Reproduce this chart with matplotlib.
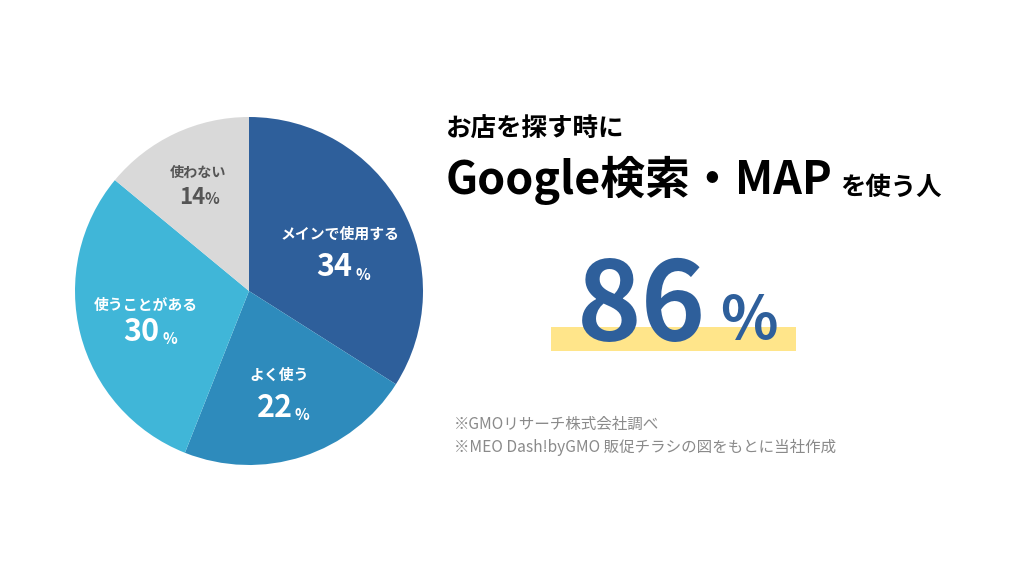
import matplotlib
matplotlib.use('Agg')
import matplotlib.pyplot as plt
from matplotlib.patches import Rectangle

plt.rcParams['font.family'] = ['Noto Sans CJK JP', 'DejaVu Sans']

labels = ['メインで使用する', 'よく使う', '使うことがある', '使わない']
values = [34, 22, 30, 14]
colors = ['#2E5F9B', '#2E8BBC', '#40B6D8', '#D9D9D9']
text_colors = ['white', 'white', 'white', '#555555']

total = 86
title_top = 'お店を探す時に'
title_main = 'Google検索・MAP'
title_tail = 'を使う人'
notes = ['※GMOリサーチ株式会社調べ', '※MEO Dash!byGMO 販促チラシの図をもとに当社作成']

# where each label goes: name x, name y, number x, number y, percent x, percent y
label_pos = [
    (340, 234, 334, 267, 363, 275),
    (279, 375, 275, 408, 302, 415),
    (146, 305, 141, 332, 170, 339),
    (198, 173, 192, 198, 212, 199),
]
number_sizes = [22, 22, 22, 16]
name_sizes = [10.7, 10.7, 10.7, 10.2]

fig = plt.figure(figsize=(10.24, 5.76), dpi=100, facecolor='white')
ax = fig.add_axes([0, 0, 1, 1])


def y_(y):
    return 576 - y


ax.pie(values, colors=colors, startangle=90, counterclock=False,
       center=(249, y_(291)), radius=174, frame=False)
ax.set_xlim(0, 1024)
ax.set_ylim(0, 576)
ax.axis('off')

for i in range(len(values)):
    nx, ny, vx, vy, px, py = label_pos[i]
    c = text_colors[i]
    ax.text(nx, y_(ny), labels[i], color=c, fontsize=name_sizes[i], fontweight='bold',
            ha='center', va='center')
    ax.text(vx, y_(vy), str(values[i]), color=c, fontsize=number_sizes[i], fontweight='bold',
            ha='center', va='center')
    ax.text(px, y_(py), '%', color=c, fontsize=11, fontweight='bold',
            ha='center', va='center')

# right side
ax.text(446, y_(128), title_top, fontsize=18.4, fontweight='bold', color='black',
        ha='left', va='center')
ax.text(446, y_(180), title_main, fontsize=32.3, fontweight='bold', color='black',
        ha='left', va='center')
ax.text(840, y_(187), title_tail, fontsize=18.3, fontweight='bold', color='black',
        ha='left', va='center')

ax.add_patch(Rectangle((551, y_(351)), 245, 24, color='#FFE58A', lw=0, zorder=2))
ax.text(642, y_(309), str(total), fontsize=79, fontweight='bold', color='#2E5F9B',
        ha='center', va='center', zorder=3)
ax.text(749, y_(322), '%', fontsize=43, fontweight='bold', color='#2E5F9B',
        ha='center', va='center', zorder=3)

ax.text(454, y_(424), notes[0], fontsize=11.2, color='#8A8A8A', ha='left', va='center')
ax.text(454, y_(447), notes[1], fontsize=11.2, color='#8A8A8A', ha='left', va='center')

fig.savefig('out.png', dpi=100)
